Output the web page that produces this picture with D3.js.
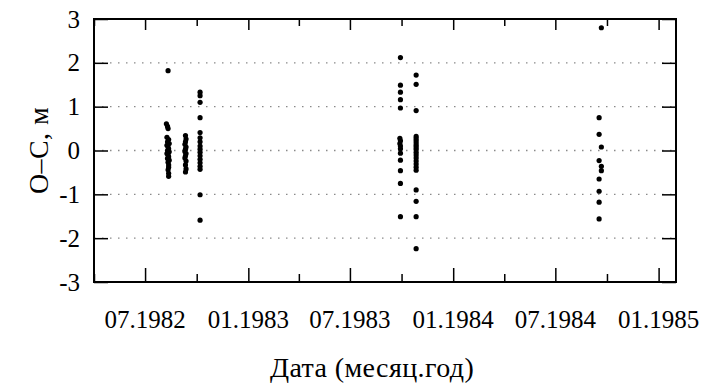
<!DOCTYPE html>
<html>
<head>
<meta charset="utf-8">
<script src="https://cdn.jsdelivr.net/npm/d3@7"></script>
<style>
  html, body { margin: 0; padding: 0; background: #fff; }
  svg { display: block; }
</style>
</head>
<body>
<svg id="chart" width="705" height="385"></svg>
<script>
// Observation epochs (UTC dates) and O–C residuals in metres
const obsDates = [
  // August 1982
  "1982-08-11", "1982-08-08", "1982-08-10", "1982-08-11", "1982-08-09", "1982-08-12",
  "1982-08-10", "1982-08-13", "1982-08-09", "1982-08-11", "1982-08-12", "1982-08-10",
  "1982-08-13", "1982-08-09", "1982-08-11", "1982-08-12", "1982-08-10", "1982-08-13",
  "1982-08-11", "1982-08-12", "1982-08-12", "1982-08-11", "1982-08-12", "1982-08-12",
  // September 1982
  "1982-09-11", "1982-09-12", "1982-09-11", "1982-09-10", "1982-09-12", "1982-09-11",
  "1982-09-10", "1982-09-12", "1982-09-11", "1982-09-10", "1982-09-12", "1982-09-11",
  "1982-09-12", "1982-09-11",
  // October 1982
  "1982-10-07", "1982-10-07", "1982-10-07", "1982-10-07", "1982-10-07", "1982-10-07",
  "1982-10-07", "1982-10-07", "1982-10-07", "1982-10-07", "1982-10-07", "1982-10-07",
  "1982-10-07", "1982-10-07", "1982-10-07", "1982-10-07", "1982-10-07",
  // late September 1983
  "1983-09-29", "1983-09-29", "1983-09-29", "1983-09-29", "1983-09-29", "1983-09-28",
  "1983-09-29", "1983-09-28", "1983-09-29", "1983-09-29", "1983-09-29", "1983-09-29",
  "1983-09-29", "1983-09-29", "1983-09-29",
  // late October 1983
  "1983-10-27", "1983-10-27", "1983-10-27", "1983-10-27", "1983-10-27", "1983-10-27",
  "1983-10-27", "1983-10-27", "1983-10-27", "1983-10-27", "1983-10-27", "1983-10-27",
  "1983-10-27", "1983-10-27", "1983-10-27", "1983-10-27", "1983-10-27", "1983-10-27",
  "1983-10-27", "1983-10-27", "1983-10-27",
  // September 1984
  "1984-09-21", "1984-09-17", "1984-09-17", "1984-09-21", "1984-09-17", "1984-09-21",
  "1984-09-21", "1984-09-17", "1984-09-17", "1984-09-17", "1984-09-17"
];

const residuals = [
  1.82, 0.61, 0.55, 0.50, 0.30, 0.25,
  0.20, 0.16, 0.12, 0.08, 0.04, 0.00,
  -0.03, -0.07, -0.10, -0.14, -0.18, -0.22,
  -0.27, -0.33, -0.38, -0.44, -0.52, -0.59,

  0.34, 0.26, 0.20, 0.14, 0.08, 0.03,
  -0.02, -0.07, -0.12, -0.17, -0.24, -0.33,
  -0.42, -0.49,

  1.33, 1.25, 1.10, 0.75, 0.41, 0.29,
  0.20, 0.10, 0.03, -0.04, -0.12, -0.20,
  -0.28, -0.36, -0.43, -1.01, -1.59,

  2.12, 1.49, 1.33, 1.16, 0.97, 0.28,
  0.22, 0.16, 0.10, 0.04, -0.06, -0.22,
  -0.46, -0.75, -1.51,

  1.72, 1.51, 0.91, 0.32, 0.27, 0.22,
  0.17, 0.12, 0.07, 0.02, -0.04, -0.10,
  -0.17, -0.24, -0.31, -0.38, -0.45, -0.90,
  -1.16, -1.51, -2.24,

  2.80, 0.75, 0.37, 0.08, -0.23, -0.36,
  -0.46, -0.65, -0.93, -1.18, -1.56
];

const dateRange = ["1982-04-01", "1985-02-01"];
const yTicks = [-3, -2, -1, 0, 1, 2, 3];
const gridValues = [-2, -1, 0, 1, 2];
const yTitle = "O–C, м";
const xTitle = "Дата (месяц.год)";

const serif = "'Liberation Serif'";

const parse = d3.utcParse("%Y-%m-%d");
const points = obsDates.map((d, i) => ({ date: parse(d), value: residuals[i] }));

const svg = d3.select("#chart");
const plot = { left: 94, right: 676, top: 19, bottom: 282 };

const x = d3.scaleUtc()
  .domain(dateRange.map(parse))
  .range([plot.left, plot.right]);
const y = d3.scaleLinear()
  .domain([-3, 3])
  .range([plot.bottom, plot.top]);

const majorTicks = x.ticks(d3.utcMonth.every(6));
const minorTicks = x.ticks(d3.utcMonth.every(3))
  .filter(d => d.getUTCMonth() % 6 !== 0);

// dotted horizontal grid
svg.append("g")
  .selectAll("line")
  .data(gridValues)
  .join("line")
  .attr("x1", plot.left)
  .attr("x2", plot.right)
  .attr("y1", d => y(d))
  .attr("y2", d => y(d))
  .attr("stroke", "#8a8a8a")
  .attr("stroke-width", 1.3)
  .attr("stroke-dasharray", "1.5,6.5");

// x axes (bottom with labels, top mirrored)
const fmt = d3.utcFormat("%m.%Y");
const bottomMajor = d3.axisBottom(x).tickValues(majorTicks).tickSize(-14).tickFormat("");
const bottomMinor = d3.axisBottom(x).tickValues(minorTicks).tickSize(-8).tickFormat("");
const topMajor = d3.axisTop(x).tickValues(majorTicks).tickSize(-11).tickFormat("");
const topMinor = d3.axisTop(x).tickValues(minorTicks).tickSize(-7).tickFormat("");

function styleAxis(g) {
  g.select(".domain").remove();
  g.selectAll(".tick line").attr("stroke", "#000").attr("stroke-width", 1.5);
}

svg.append("g").attr("transform", `translate(0,${plot.bottom})`).call(bottomMajor).call(styleAxis);
svg.append("g").attr("transform", `translate(0,${plot.bottom})`).call(bottomMinor).call(styleAxis);
svg.append("g").attr("transform", `translate(0,${plot.top})`).call(topMajor).call(styleAxis);
svg.append("g").attr("transform", `translate(0,${plot.top})`).call(topMinor).call(styleAxis);

// y axes (left with labels, right mirrored)
const leftAxis = d3.axisLeft(y).tickValues(yTicks).tickSize(-14).tickFormat("");
const rightAxis = d3.axisRight(y).tickValues(yTicks).tickSize(-14).tickFormat("");
svg.append("g").attr("transform", `translate(${plot.left},0)`).call(leftAxis).call(styleAxis);
svg.append("g").attr("transform", `translate(${plot.right},0)`).call(rightAxis).call(styleAxis);

// tick labels
svg.append("g")
  .selectAll("text")
  .data(majorTicks)
  .join("text")
  .attr("x", d => x(d))
  .attr("y", 328)
  .attr("text-anchor", "middle")
  .style("font-family", serif)
  .style("font-size", "25px")
  .text(d => fmt(d));

svg.append("g")
  .selectAll("text")
  .data(yTicks)
  .join("text")
  .attr("x", 80)
  .attr("y", d => y(d) + 8.5)
  .attr("text-anchor", "end")
  .style("font-family", serif)
  .style("font-size", "25px")
  .text(d => d);

// frame
svg.append("rect")
  .attr("x", plot.left)
  .attr("y", plot.top)
  .attr("width", plot.right - plot.left)
  .attr("height", plot.bottom - plot.top)
  .attr("fill", "none")
  .attr("stroke", "#000")
  .attr("stroke-width", 2);

// residual points
svg.append("g")
  .selectAll("circle")
  .data(points)
  .join("circle")
  .attr("cx", d => x(d.date))
  .attr("cy", d => y(d.value))
  .attr("r", 2.6)
  .attr("fill", "#000");

// axis titles
svg.append("text")
  .attr("transform", `translate(48,${(plot.top + plot.bottom) / 2}) rotate(-90)`)
  .attr("text-anchor", "middle")
  .style("font-family", serif)
  .style("font-size", "28px")
  .style("letter-spacing", "0.4px")
  .text(yTitle);

svg.append("text")
  .attr("x", 372)
  .attr("y", 377)
  .attr("text-anchor", "middle")
  .style("font-family", serif)
  .style("font-size", "28px")
  .style("letter-spacing", "0.4px")
  .text(xTitle);
</script>
</body>
</html>
